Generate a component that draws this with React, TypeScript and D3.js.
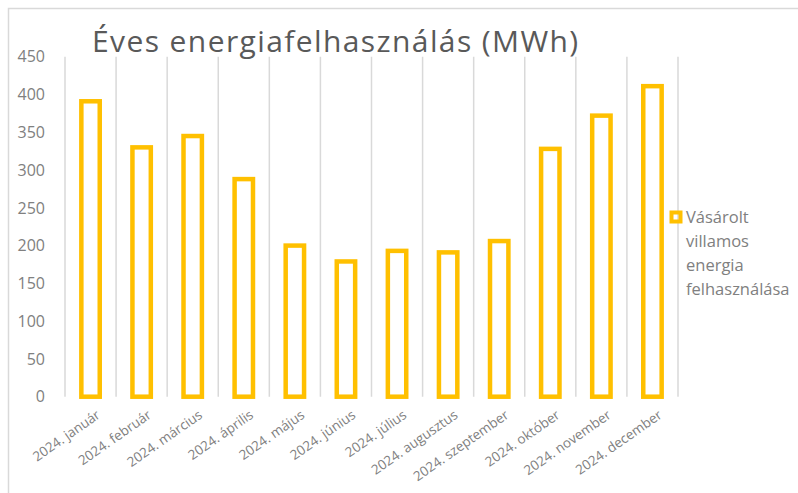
import React from 'react';
import * as d3 from 'd3';

const months = [
  '2024. január', '2024. február', '2024. március', '2024. április',
  '2024. május', '2024. június', '2024. július', '2024. augusztus',
  '2024. szeptember', '2024. október', '2024. november', '2024. december',
];
const purchased = [391, 330, 345, 288, 200, 179, 193, 191, 206, 328, 372, 411];
const yTicks = [0, 50, 100, 150, 200, 250, 300, 350, 400, 450];
const legendLines = ['Vásárolt', 'villamos', 'energia', 'felhasználása'];

const W = 798;
const H = 493;
const font = '"Open Sans", sans-serif';
const barColor = '#FFC000';

export default function App() {
  const x = d3.scaleBand<string>().domain(months).range([65, 678]).padding(0);
  const y = d3.scaleLinear().domain([0, 450]).range([396.7, 56.7]);
  const barW = x.bandwidth() * 0.36;

  const gridXs = months.map((m) => x(m) as number).concat([x.range()[1]]);

  return (
    <svg width={W} height={H} style={{ position: 'absolute', left: 0, top: 0, background: '#fff' }}>
      {/* chart frame, only top and left edges are in view */}
      <rect x={8.5} y={8.5} width={W + 20} height={H + 20} fill="#fff" stroke="#d9d9d9" strokeWidth={1.5} />

      <text x={92} y={52} fontFamily={font} fontSize={30} letterSpacing={1.4} fill="#595959">
        Éves energiafelhasználás (MWh)
      </text>

      {gridXs.map((gx, i) => (
        <line key={i} x1={gx} x2={gx} y1={y(450)} y2={y(0)} stroke="#d9d9d9" strokeWidth={1.5} />
      ))}

      {yTicks.map((t) => (
        <text key={t} x={45} y={y(t)} dy="0.36em" textAnchor="end" fontFamily={font} fontSize={16} fill="#808080">
          {t}
        </text>
      ))}

      {months.map((m, i) => {
        const cx = (x(m) as number) + x.bandwidth() / 2;
        return (
          <rect
            key={m}
            x={cx - barW / 2}
            y={y(purchased[i])}
            width={barW}
            height={y(0) - y(purchased[i])}
            fill="none"
            stroke={barColor}
            strokeWidth={4.5}
          />
        );
      })}

      {months.map((m) => {
        const cx = (x(m) as number) + x.bandwidth() / 2;
        return (
          <text
            key={m}
            transform={`translate(${cx + 5},${409}) rotate(-35)`}
            dy="0.72em"
            textAnchor="end"
            fontFamily={font}
            fontSize={13.5}
            fill="#808080"
          >
            {m}
          </text>
        );
      })}

      <rect x={671.5} y={212.5} width={9} height={9} fill="none" stroke={barColor} strokeWidth={4} />
      {legendLines.map((l, i) => (
        <text key={l} x={686} y={217 + i * 24} dy="0.36em" fontFamily={font} fontSize={16.5} fill="#808080">
          {l}
        </text>
      ))}
    </svg>
  );
}
